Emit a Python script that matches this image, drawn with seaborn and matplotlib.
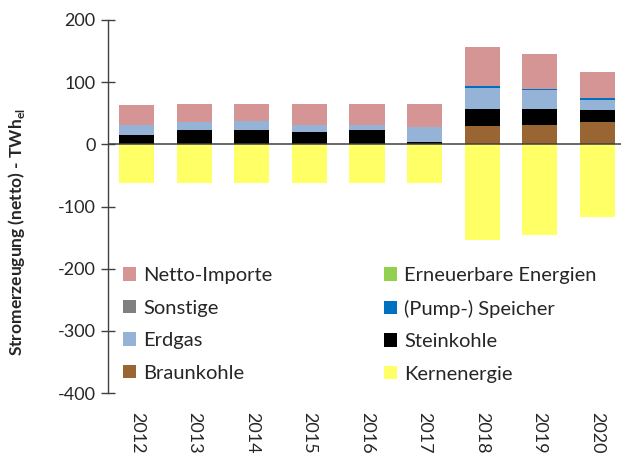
import numpy as np
import pandas as pd
import matplotlib
matplotlib.use("Agg")
import matplotlib.pyplot as plt
from matplotlib.patches import Patch
import seaborn as sns

sns.set_theme(style="white")
plt.rcParams['font.family'] = ['Lato', 'DejaVu Sans']
plt.rcParams['axes.unicode_minus'] = False

years = ["2012", "2013", "2014", "2015", "2016", "2017", "2018", "2019", "2020"]
braunkohle = [0, 0, 0, 0, 0, 0, 29.8, 31.9, 36.2]
steinkohle = [14.4, 22.4, 22.4, 20.3, 22.4, 4.3, 26.6, 24.5, 18.6]
erdgas = [17.5, 13.3, 14.9, 11.6, 9.5, 23.9, 34.6, 30.8, 17.0]
speicher = [0, 0, 0, 0, 0, 0, 2.6, 2.1, 2.1]
sonstige = [0, 0, 0, 0, 0, 0, 0, 0, 0]
erneuerbare = [0, 0, 0, 0, 0, 0, 0, 0, 0]
netto_importe = [30.9, 29.2, 27.6, 33.0, 33.0, 36.7, 62.2, 55.9, 42.5]
kernenergie = [-62.2, -62.5, -62.5, -62.5, -62.5, -62.5, -154.6, -145.6, -116.9]

# stacking order from bottom to top
layers = [
    ("Braunkohle", braunkohle, "#996633"),
    ("Steinkohle", steinkohle, "#000000"),
    ("Erdgas", erdgas, "#95B3D7"),
    ("Sonstige", sonstige, "#808080"),
    ("Erneuerbare Energien", erneuerbare, "#92D050"),
    ("(Pump-) Speicher", speicher, "#0070C0"),
    ("Netto-Importe", netto_importe, "#D59595"),
]
colors = {name: c for name, _, c in layers}
colors["Kernenergie"] = "#FFFF66"

fig = plt.figure(figsize=(6.21, 4.63), dpi=100)
ax = fig.add_axes([108 / 621, 1 - 393 / 463, 518 / 621, 373 / 463])

# draw cumulative sums from top layer downwards so the smaller ones sit on top
cum = np.cumsum([np.array(v, dtype=float) for _, v, _ in layers], axis=0)
for i in range(len(layers) - 1, -1, -1):
    df = pd.DataFrame({"year": years, "value": cum[i]})
    sns.barplot(data=df, x="year", y="value", color=layers[i][2], saturation=1,
                width=0.61, edgecolor="none", ax=ax)

df = pd.DataFrame({"year": years, "value": kernenergie})
sns.barplot(data=df, x="year", y="value", color=colors["Kernenergie"], saturation=1,
            width=0.61, edgecolor="none", ax=ax)

ax.axhline(0, color="#404040", lw=1.1)
ax.set_xlim(-0.5, 8.5)
ax.set_ylim(-400, 200)
ax.set_yticks([-400, -300, -200, -100, 0, 100, 200])
ax.set_xlabel("")
ax.set_ylabel("Stromerzeugung (netto) - TWh$_{\\mathregular{el}}$", fontsize=12.5,
              fontweight="bold")
ax.yaxis.set_label_coords(-0.157, 0.432)

for s in ["top", "right", "bottom"]:
    ax.spines[s].set_visible(False)
ax.spines["left"].set_color("#404040")
ax.spines["left"].set_linewidth(1.0)
ax.tick_params(axis="y", direction="inout", length=10, width=1, color="#404040",
               labelsize=13, pad=4, left=True)
ax.tick_params(axis="x", length=0, labelsize=13, pad=14, labelrotation=270)

order = ["Netto-Importe", "Sonstige", "Erdgas", "Braunkohle",
         "Erneuerbare Energien", "(Pump-) Speicher", "Steinkohle", "Kernenergie"]
handles = [Patch(facecolor=colors[n], edgecolor="none", label=n) for n in order]
fig.legend(handles=handles, ncol=2, loc="upper left",
           bbox_to_anchor=(123 / 621, 1 - 267 / 463), frameon=False,
           fontsize=14.5, handlelength=0.65, handleheight=0.65, handletextpad=0.35,
           labelspacing=0.77, columnspacing=5.55, borderpad=0, borderaxespad=0)

fig.savefig("out.png", dpi=100)
